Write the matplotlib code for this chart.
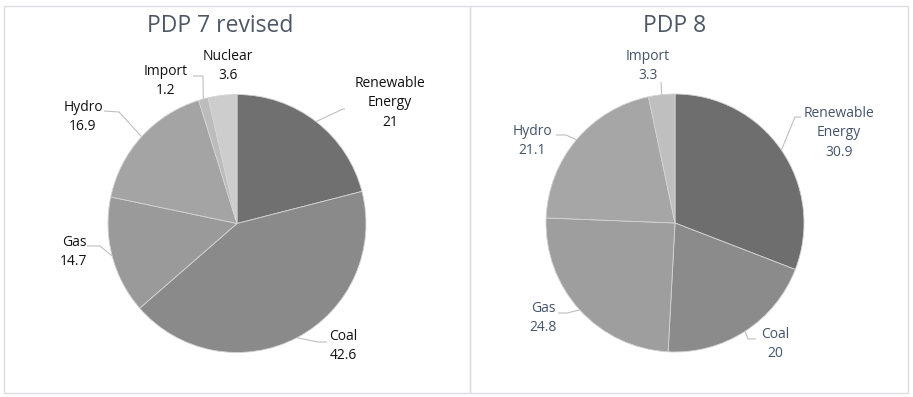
import numpy as np
import matplotlib
matplotlib.use("Agg")
import matplotlib.pyplot as plt
from matplotlib.patches import Rectangle

# ---- data ----
cats_pdp7 = ["Renewable\nEnergy", "Coal", "Gas", "Hydro", "Import", "Nuclear"]
vals_pdp7 = [21, 42.6, 14.7, 16.9, 1.2, 3.6]
cats_pdp8 = ["Renewable\nEnergy", "Coal", "Gas", "Hydro", "Import"]
vals_pdp8 = [30.9, 20, 24.8, 21.1, 3.3]
title_pdp7 = "PDP 7 revised"
title_pdp8 = "PDP 8"

colors_pdp7 = ["#707070", "#8a8a8a", "#9a9a9a", "#a4a4a4", "#bcbcbc", "#cdcdcd"]
colors_pdp8 = ["#6e6e6e", "#8b8b8b", "#9e9e9e", "#a6a6a6", "#bfbfbf"]

W, H = 913, 397
plt.rcParams['font.family'] = ['Open Sans', 'DejaVu Sans']
fig = plt.figure(figsize=(W / 100, H / 100), dpi=100)

# overlay axes in pixel coordinates
ov = fig.add_axes([0, 0, 1, 1])
ov.set_xlim(0, W)
ov.set_ylim(H, 0)
ov.axis('off')
ov.set_zorder(5)
ov.patch.set_alpha(0)

# panel borders
for (x0, x1) in [(4, 470), (470, 908)]:
    ov.add_patch(Rectangle((x0, 6), x1 - x0, 387, fill=False, ec="#dcdce2", lw=1))

R = 129


def draw_pie(cx, cy, vals, cols, title, tx, labels, text_color):
    ax = fig.add_axes([(cx - R) / W, (H - cy - R) / H, 2 * R / W, 2 * R / H])
    wedges, _ = ax.pie(vals, colors=cols, startangle=90, counterclock=False,
                       radius=1, wedgeprops=dict(edgecolor="#d4d4d4", linewidth=0.6))
    ax.set_xlim(-1, 1)
    ax.set_ylim(-1, 1)
    ax.set_aspect('equal')
    ax.axis('off')
    ov.text(tx, 26, title, ha='center', va='center', fontsize=16.5, color="#4d5765")
    for w, v, lab in zip(wedges, vals, labels):
        if lab is None:
            continue
        (lx, ly, anchor, elbow, name) = lab
        ov.text(lx, ly, f"{name}\n{v:g}", ha='center', va='center', fontsize=10,
                color=text_color, linespacing=1.45)
        if anchor is not None:
            ang = np.deg2rad((w.theta1 + w.theta2) / 2)
            ex = cx + R * np.cos(ang)
            ey = cy - R * np.sin(ang)
            ov.plot([anchor[0], elbow[0], ex], [anchor[1], elbow[1], ey],
                    color="#bfbfbf", lw=0.8, solid_capstyle='butt')


labels7 = [
    (390, 103, (345, 109), (343, 109), cats_pdp7[0]),
    (343, 346, (327, 342), (318, 342), cats_pdp7[1]),
    (74, 252, (87, 246), (100, 246), cats_pdp7[2]),
    (83, 117, (104, 111), (119, 112), cats_pdp7[3]),
    (166, 81, (193, 76), (203, 76), cats_pdp7[4]),
    (228, 66, None, None, cats_pdp7[5]),
]
draw_pie(237, 223.5, vals_pdp7, colors_pdp7, title_pdp7, 220, labels7, "#111111")

labels8 = [
    (839, 133, (801, 117), (795, 117), cats_pdp8[0]),
    (775, 344, (756, 339), (748, 339), cats_pdp8[1]),
    (543, 318, (558, 313), (567, 313), cats_pdp8[2]),
    (532, 141, (556, 135), (566, 135), cats_pdp8[3]),
    (648, 66, (661, 82), (661, 82), cats_pdp8[4]),
]
draw_pie(675, 223, vals_pdp8, colors_pdp8, title_pdp8, 675, labels8, "#44546a")

fig.savefig("out.png", dpi=100)
